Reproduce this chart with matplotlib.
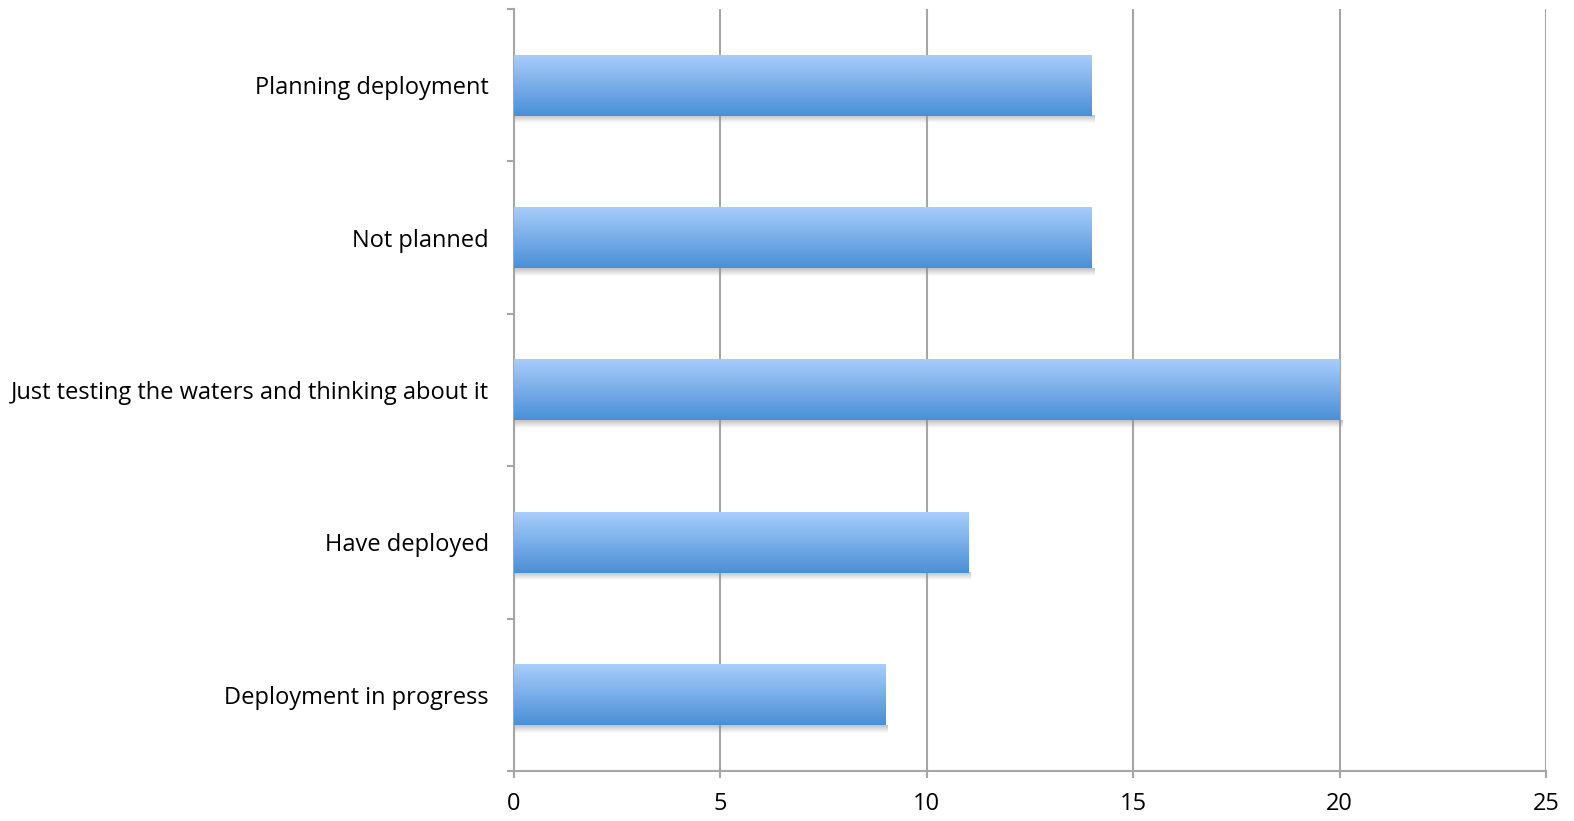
import numpy as np
import matplotlib.pyplot as plt
from matplotlib.colors import LinearSegmentedColormap

# Survey responses, listed bottom to top
categories = [
    'Deployment in progress',
    'Have deployed',
    'Just testing the waters and thinking about it',
    'Not planned',
    'Planning deployment',
]
counts = [9, 11, 20, 14, 14]
x_ticks = [0, 5, 10, 15, 20, 25]

plt.rcParams['font.family'] = ['Open Sans', 'DejaVu Sans']

bar_height = 0.4
grid_color = '#a6a6a6'
label_size = 17

# Vertical blue gradient for the bars (light on top, darker at the bottom)
bar_cmap = LinearSegmentedColormap.from_list('bar', ['#4a8fd6', '#a8cdfb'])
grad = np.linspace(0, 1, 256).reshape(-1, 1)
# Soft grey shadow fading downward
shadow_cmap = LinearSegmentedColormap.from_list(
    'shadow', [(0.55, 0.55, 0.55, 0.0), (0.55, 0.55, 0.55, 0.55)])

fig = plt.figure(figsize=(15.74, 8.21), dpi=100)
ax = fig.add_axes([514 / 1574, 1 - 771 / 821, (1546 - 514) / 1574, (771 - 9) / 821])

for y, v in zip(range(len(categories)), counts):
    bottom = y - bar_height / 2
    top = y + bar_height / 2
    # shadow just below and slightly right of the bar
    ax.imshow(grad, cmap=shadow_cmap, origin='lower', aspect='auto',
              extent=(0, v + 0.06, bottom - 0.05, bottom), zorder=2,
              interpolation='bilinear')
    ax.imshow(grad, cmap=bar_cmap, origin='lower', aspect='auto',
              extent=(0, v, bottom, top), zorder=3, interpolation='bilinear')

ax.set_xlim(0, 25)
ax.set_ylim(-0.5, len(categories) - 0.5)

# Gridlines at each x tick
ax.set_xticks(x_ticks)
ax.xaxis.grid(True, color=grid_color, linewidth=1.5, zorder=1)
ax.set_axisbelow(True)

ax.set_yticks(range(len(categories)))
ax.set_yticklabels(categories)
ax.set_yticks(np.arange(-0.5, len(categories), 1.0), minor=True)

ax.tick_params(axis='y', which='major', length=0, pad=18, labelsize=label_size)
ax.tick_params(axis='y', which='minor', length=5, width=1.5, color=grid_color)
ax.tick_params(axis='x', length=5, width=1.5, color=grid_color, pad=10,
               labelsize=label_size)

for side in ['top', 'right']:
    ax.spines[side].set_visible(False)
for side in ['left', 'bottom']:
    ax.spines[side].set_color(grid_color)
    ax.spines[side].set_linewidth(1.5)

fig.savefig('out.png', dpi=100)
